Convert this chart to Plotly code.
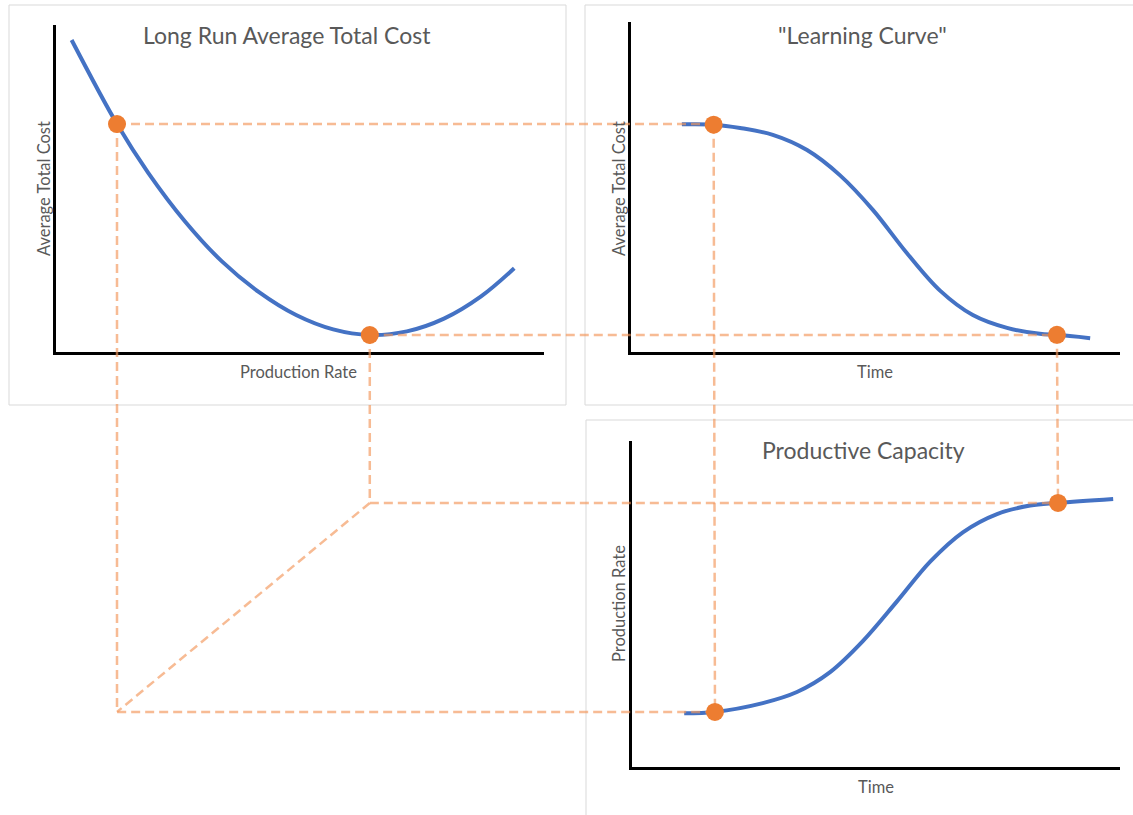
import plotly.graph_objects as go

W, H = 1133, 815

# ---------------- data ----------------
# Panel 1: Long Run Average Total Cost  (x: production rate, y: average total cost)
lratc_rate = [3.2, 12.5, 18.9, 26.4, 34.0, 41.6, 49.2, 56.8, 64.3, 71.9, 79.5, 87.1, 93.9]
lratc_cost = [95.4, 69.7, 54.8, 40.0, 27.7, 18.3, 11.3, 6.9, 5.2, 6.3, 10.2, 17.0, 25.6]
lratc_mark_rate = [12.5, 64.3]
lratc_mark_cost = [69.7, 5.2]

# Panel 2: "Learning Curve"  (x: time, y: average total cost)
learn_time = [10.4, 16.9, 22.3, 29.0, 36.0, 42.7, 49.5, 56.4, 63.2, 69.9, 76.9, 83.6, 87.1, 93.9]
learn_cost = [69.0, 68.9, 67.9, 65.8, 61.2, 53.6, 43.0, 30.0, 18.6, 11.2, 7.3, 5.5, 5.2, 4.2]
learn_mark_time = [16.9, 87.1]
learn_mark_cost = [68.9, 5.2]

# Panel 3: Productive Capacity  (x: time, y: production rate)
cap_time = [10.7, 17.0, 26.8, 33.8, 40.6, 47.3, 54.3, 61.1, 67.8, 74.8, 81.6, 87.3, 98.6]
cap_rate = [16.5, 16.9, 19.6, 23.0, 29.1, 38.6, 50.8, 63.0, 72.0, 77.6, 80.2, 81.0, 82.2]
cap_mark_time = [17.0, 87.3]
cap_mark_rate = [16.9, 81.0]

titles = ["Long Run Average Total Cost", "\"Learning Curve\"", "Productive Capacity"]
xlabels = ["Production Rate", "Time", "Time"]
ylabels = ["Average Total Cost", "Average Total Cost", "Production Rate"]

# ---------------- layout geometry ----------------
def px(x):
    return x / W

def py(y):
    return (H - y) / H

# plot-area domains (paper)
dom = {
    1: dict(x=[px(56), px(544)], y=[py(352), py(25)]),
    2: dict(x=[px(631), px(1120)], y=[py(352), py(22)]),
    3: dict(x=[px(632), px(1120)], y=[py(767), py(441)]),
}
RANGE = [0, 100]

def to_paper(panel, xs, ys):
    d = dom[panel]
    xo = [d["x"][0] + (v - RANGE[0]) / (RANGE[1] - RANGE[0]) * (d["x"][1] - d["x"][0]) for v in xs]
    yo = [d["y"][0] + (v - RANGE[0]) / (RANGE[1] - RANGE[0]) * (d["y"][1] - d["y"][0]) for v in ys]
    return xo, yo

BLUE = "#4472C4"
ORANGE = "#ED7D31"
DASH = "rgba(242,150,90,0.65)"
GRAY = "#595959"
FONT = "Lato"

fig = go.Figure()

curves = [
    (1, lratc_rate, lratc_cost),
    (2, learn_time, learn_cost),
    (3, cap_time, cap_rate),
]
for p, xs, ys in curves:
    sfx = "" if p == 1 else str(p)
    fig.add_trace(go.Scatter(
        x=xs, y=ys, mode="lines", line=dict(color=BLUE, width=4, shape="spline", smoothing=1.0),
        xaxis="x" + sfx, yaxis="y" + sfx, hoverinfo="skip", cliponaxis=False,
    ))

# ---------------- connectors (overlay, paper space) ----------------
a1x, a1y = to_paper(1, lratc_mark_rate, lratc_mark_cost)
b2x, b2y = to_paper(2, learn_mark_time, learn_mark_cost)
c3x, c3y = to_paper(3, cap_mark_time, cap_mark_rate)

segments = [
    ([a1x[0], b2x[0]], [a1y[0], a1y[0]]),                 # cost level 1 -> learning curve
    ([a1x[1], b2x[1]], [a1y[1], a1y[1]]),                 # cost level 2 -> learning curve
    ([a1x[0], a1x[0], c3x[0]], [a1y[0], c3y[0], c3y[0]]), # rate 1 down and across
    ([a1x[1], a1x[1], c3x[1]], [a1y[1], c3y[1], c3y[1]]), # rate 2 down and across
    ([a1x[1], a1x[0]], [c3y[1], c3y[0]]),                 # diagonal mapping
    ([b2x[0], c3x[0]], [b2y[0], c3y[0]]),                 # time 1
    ([b2x[1], c3x[1]], [b2y[1], c3y[1]]),                 # time 2
]
for xs, ys in segments:
    fig.add_trace(go.Scatter(
        x=xs, y=ys, mode="lines", line=dict(color=DASH, width=2.5, dash="9px,5px"),
        xaxis="x4", yaxis="y4", hoverinfo="skip", cliponaxis=False,
    ))

mx = a1x + b2x + c3x
my = a1y + b2y + c3y
fig.add_trace(go.Scatter(
    x=mx, y=my, mode="markers", marker=dict(color=ORANGE, size=18, line=dict(width=0)),
    xaxis="x4", yaxis="y4", hoverinfo="skip", cliponaxis=False,
))

# ---------------- axes ----------------
def axis(domain, anchor):
    return dict(domain=domain, range=RANGE, anchor=anchor, showline=True, linecolor="black",
                linewidth=2.5, showgrid=False, zeroline=False, showticklabels=False,
                ticks="", fixedrange=True)

layout = dict(
    width=W, height=H, margin=dict(l=0, r=0, t=0, b=0),
    paper_bgcolor="white", plot_bgcolor="rgba(0,0,0,0)", showlegend=False,
    xaxis=axis(dom[1]["x"], "y"), yaxis=axis(dom[1]["y"], "x"),
    xaxis2=axis(dom[2]["x"], "y2"), yaxis2=axis(dom[2]["y"], "x2"),
    xaxis3=axis(dom[3]["x"], "y3"), yaxis3=axis(dom[3]["y"], "x3"),
    xaxis4=dict(domain=[0, 1], range=[0, 1], anchor="y4", visible=False, fixedrange=True),
    yaxis4=dict(domain=[0, 1], range=[0, 1], anchor="x4", visible=False, fixedrange=True),
)
fig.update_layout(**layout)

# panel borders
boxes = [(9, 5, 566, 405), (585, 5, 1140, 405), (586, 420, 1140, 830)]
for x0, y0, x1, y1 in boxes:
    fig.add_shape(type="rect", xref="paper", yref="paper", x0=px(x0), x1=px(x1), y0=py(y1), y1=py(y0),
                  line=dict(color="#D9D9D9", width=1), fillcolor="rgba(0,0,0,0)", layer="below")

# titles and axis labels
title_pos = [(287, 35), (862, 35), (863, 450)]
xlab_pos = [(299, 372), (875, 372), (876, 787)]
ylab_pos = [(44, 188), (619, 188), (619, 603)]
for i in range(3):
    fig.add_annotation(text=titles[i], x=px(title_pos[i][0]), y=py(title_pos[i][1]), xref="paper", yref="paper",
                       showarrow=False, xanchor="center", yanchor="middle",
                       font=dict(family=FONT, size=23, color=GRAY))
    fig.add_annotation(text=xlabels[i], x=px(xlab_pos[i][0]), y=py(xlab_pos[i][1]), xref="paper", yref="paper",
                       showarrow=False, xanchor="center", yanchor="middle",
                       font=dict(family=FONT, size=16.5, color=GRAY))
    fig.add_annotation(text=ylabels[i], x=px(ylab_pos[i][0]), y=py(ylab_pos[i][1]), xref="paper", yref="paper",
                       showarrow=False, xanchor="center", yanchor="middle", textangle=-90,
                       font=dict(family=FONT, size=16.5, color=GRAY))

fig.write_html("out.html", config={"displayModeBar": False},
               post_script="document.body.style.margin='0px';")
